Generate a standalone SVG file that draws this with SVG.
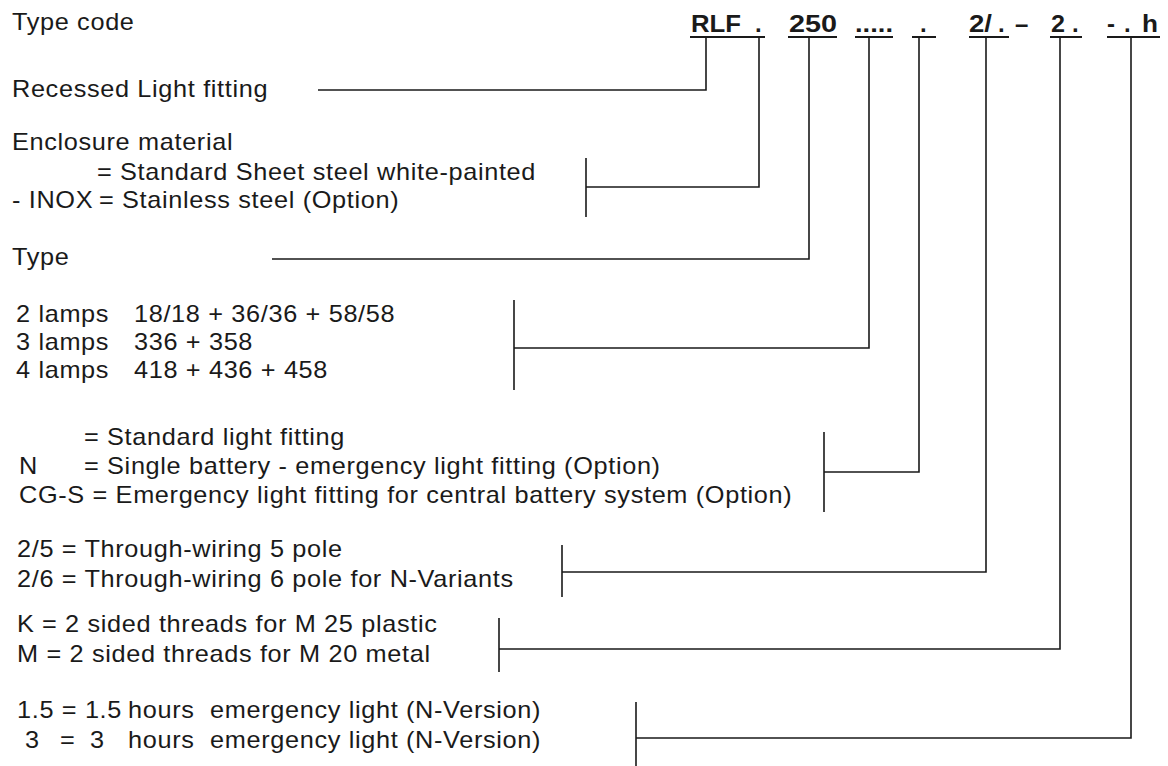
<svg xmlns="http://www.w3.org/2000/svg" width="1168" height="766" viewBox="0 0 1168 766">
<style>
.t{font-family:"Liberation Sans",Arial,sans-serif;font-size:23px;letter-spacing:0.6px;fill:#1a1a1a}
.b{font-family:"Liberation Sans",Arial,sans-serif;font-size:24px;font-weight:bold;fill:#1a1a1a}
.c{stroke:#1a1a1a;stroke-width:1.6;fill:none}
.u{stroke:#1a1a1a;stroke-width:2.2;fill:none}
</style>
<rect width="1168" height="766" fill="#ffffff"/>
<g id="title">
<g transform="scale(1.1 1)"><text class="t" x="10.91" y="30">Type code</text></g>
</g>
<g id="code">
<text class="b" x="691" y="32" textLength="50" lengthAdjust="spacingAndGlyphs">RLF</text>
<text class="b" x="755" y="32">.</text>
<text class="b" x="789" y="32" textLength="48" lengthAdjust="spacingAndGlyphs">250</text>
<text class="b" x="855" y="32" textLength="38" lengthAdjust="spacingAndGlyphs">.....</text>
<text class="b" x="920" y="32">.</text>
<text class="b" x="969" y="32" textLength="23" lengthAdjust="spacingAndGlyphs">2/</text>
<text class="b" x="998" y="32">.</text>
<text class="b" x="1015" y="32">–</text>
<text class="b" x="1051" y="32" textLength="14" lengthAdjust="spacingAndGlyphs">2</text>
<text class="b" x="1072" y="32">.</text>
<text class="b" x="1107" y="32">-</text>
<text class="b" x="1124" y="32">.</text>
<text class="b" x="1142" y="32" textLength="16" lengthAdjust="spacingAndGlyphs">h</text>
<path class="u" d="M690 37H765M788 37H837M855 37H893M912 37H936M969 37H1009M1050 37H1082M1107 37H1160"/>
</g>
<g id="recessed">
<g transform="scale(1.1 1)"><text class="t" x="10.91" y="97">Recessed Light fitting</text></g>
</g>
<g id="enclosure">
<g transform="scale(1.1 1)">
<text class="t" x="10.91" y="150">Enclosure material</text>
<text class="t" x="88.18" y="180">= Standard Sheet steel white-painted</text>
<text class="t" y="208"><tspan x="10.91">- INOX</tspan><tspan x="90">= Stainless steel (Option)</tspan></text>
</g>
</g>
<g id="type">
<g transform="scale(1.1 1)"><text class="t" x="10.91" y="265">Type</text></g>
</g>
<g id="lamps">
<g transform="scale(1.1 1)">
<text class="t" y="322"><tspan x="14.55">2 lamps</tspan><tspan x="121.82">18/18 + 36/36 + 58/58</tspan></text>
<text class="t" y="350"><tspan x="14.55">3 lamps</tspan><tspan x="121.82">336 + 358</tspan></text>
<text class="t" y="378"><tspan x="14.55">4 lamps</tspan><tspan x="121.82">418 + 436 + 458</tspan></text>
</g>
</g>
<g id="emergency">
<g transform="scale(1.1 1)">
<text class="t" x="76.36" y="445">= Standard light fitting</text>
<text class="t" y="474"><tspan x="17.27">N</tspan><tspan x="76.36">= Single battery - emergency light fitting (Option)</tspan></text>
<text class="t" x="17.27" y="503">CG-S = Emergency light fitting for central battery system (Option)</text>
</g>
</g>
<g id="wiring">
<g transform="scale(1.1 1)">
<text class="t" x="15.45" y="557">2/5 = Through-wiring 5 pole</text>
<text class="t" x="15.45" y="587">2/6 = Through-wiring 6 pole for N-Variants</text>
</g>
</g>
<g id="threads">
<g transform="scale(1.1 1)">
<text class="t" y="632"><tspan x="15.45">K</tspan><tspan x="38.18">= 2 sided threads for M 25 plastic</tspan></text>
<text class="t" x="15.45" y="662">M = 2 sided threads for M 20 metal</text>
</g>
</g>
<g id="hours">
<g transform="scale(1.1 1)">
<text class="t" y="718"><tspan x="15.45">1.5 = 1.5</tspan><tspan x="116.36">hours</tspan><tspan x="190.91">emergency light (N-Version)</tspan></text>
<text class="t" y="748"><tspan x="22.73">3</tspan><tspan x="54.55">=</tspan><tspan x="81.82">3</tspan><tspan x="116.36">hours</tspan><tspan x="190.91">emergency light (N-Version)</tspan></text>
</g>
</g>
<g id="connectors">
<path class="c" d="M706 37V90H318"/>
<path class="c" d="M759 37V187H586M586 158V217"/>
<path class="c" d="M809 37V259H272"/>
<path class="c" d="M869 37V348H514M514 300V390"/>
<path class="c" d="M919 37V472H824M824 432V512"/>
<path class="c" d="M986 37V572H562M562 545V597"/>
<path class="c" d="M1060 37V649H499M499 618V672"/>
<path class="c" d="M1131 37V738H636M636 702V766"/>
</g>
</svg>
